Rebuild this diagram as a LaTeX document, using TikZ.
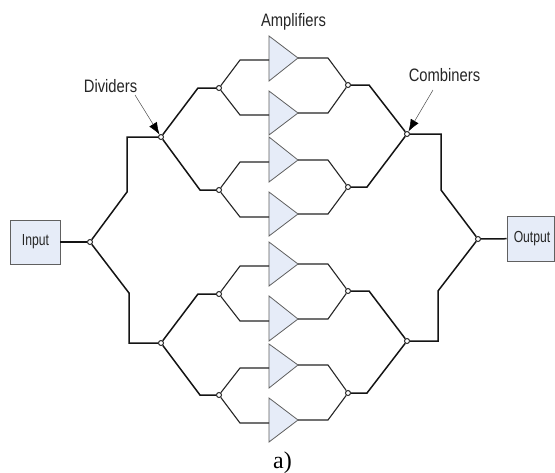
\documentclass[tikz,border=0pt]{standalone}
\usepackage{fontspec}
\usepackage{graphicx}
\setmainfont{Liberation Serif}
\setsansfont{Liberation Sans}
\usetikzlibrary{arrows.meta}
\definecolor{ampfill}{HTML}{E6ECF8}
\definecolor{boxline}{HTML}{606060}
\tikzset{
  outer/.style={line width=1.5pt,draw=black!92},
  thin wire/.style={line width=1.1pt,draw=black!85},
  joint/.style={circle,draw=black!85,line width=1pt,fill=white,minimum size=5pt,inner sep=0pt},
  ampbody/.style={fill=ampfill,draw=boxline,line width=0.8pt,line join=miter},
  iobox/.style={draw=boxline,line width=0.9pt,fill=ampfill,inner sep=0pt},
  lab/.style={inner sep=0pt,text=black!85},
  pointer/.style={draw=black!70,line width=0.5pt,-{Latex[length=12pt,width=9pt,black]}}
}
\newcommand{\biglab}[1]{\scalebox{0.82}[1]{\sffamily\fontsize{18}{18}\selectfont #1}}
\newcommand{\boxlab}[1]{\scalebox{0.76}[1]{\sffamily\fontsize{16}{16}\selectfont #1}}
\newcommand{\ampl}[5]{% name, top, bottom, tip-y, input-y
  \coordinate (#1in) at (269,#5);
  \coordinate (#1out) at (298,#4);
  \draw[ampbody] (269,#2) -- (#1out) -- (269,#3) -- cycle;
}
\begin{document}
\begin{tikzpicture}[x=1pt,y=-1pt]
\useasboundingbox (0,0) rectangle (555,472);
\fill[white] (0,0) rectangle (555,472);
% amplifiers
\ampl{a1}{36}{81}{58}{60}
\ampl{a2}{91}{135}{113}{115}
\ampl{a3}{137}{182}{160}{162}
\ampl{a4}{192}{236}{214}{217}
\ampl{a5}{242}{286}{264}{266}
\ampl{a6}{296}{341}{319}{321}
\ampl{a7}{344}{388}{365}{368}
\ampl{a8}{398}{442}{420}{423}
% boxes and joints
\node[iobox,minimum width=50pt,minimum height=44pt] (input) at (35,242) {};
\node[iobox,minimum width=47pt,minimum height=45pt] (output) at (530.5,238.5) {};
\node[joint] (root) at (90,242) {};
\node[joint] (d1) at (161,137) {};
\node[joint] (d2) at (161,343) {};
\node[joint] (d11) at (219,88) {};
\node[joint] (d12) at (219,190) {};
\node[joint] (d21) at (219,294) {};
\node[joint] (d22) at (219,395) {};
\node[joint] (c11) at (348,85) {};
\node[joint] (c12) at (348,187) {};
\node[joint] (c21) at (348,291) {};
\node[joint] (c22) at (348,393) {};
\node[joint] (c1) at (407,134) {};
\node[joint] (c2) at (407,341) {};
\node[joint] (sink) at (478,239) {};
% outer wires
\draw[outer] (input) -- (root);
\draw[outer] (root) -- (127,192) -- (127,137) -- (d1);
\draw[outer] (root) -- (129,293) -- (129,343) -- (d2);
\draw[outer] (d1) -- (198,88) -- (d11);
\draw[outer] (d1) -- (200,190) -- (d12);
\draw[outer] (d2) -- (198,294) -- (d21);
\draw[outer] (d2) -- (200,395) -- (d22);
\draw[outer] (c11) -- (369,85) -- (c1);
\draw[outer] (c12) -- (367,187) -- (c1);
\draw[outer] (c21) -- (369,291) -- (c2);
\draw[outer] (c22) -- (367,393) -- (c2);
\draw[outer] (c1) -- (441,134) -- (441,190) -- (sink);
\draw[outer] (c2) -- (438,341) -- (438,291) -- (sink);
\draw[outer] (sink) -- (output);
% inner wires
\draw[thin wire] (d11) -- (240,60) -- (a1in);
\draw[thin wire] (d11) -- (240,115) -- (a2in);
\draw[thin wire] (d12) -- (240,162) -- (a3in);
\draw[thin wire] (d12) -- (240,217) -- (a4in);
\draw[thin wire] (d21) -- (240,266) -- (a5in);
\draw[thin wire] (d21) -- (240,321) -- (a6in);
\draw[thin wire] (d22) -- (240,368) -- (a7in);
\draw[thin wire] (d22) -- (240,423) -- (a8in);
\draw[thin wire] (a1out) -- (328,58) -- (c11);
\draw[thin wire] (a2out) -- (328,113) -- (c11);
\draw[thin wire] (a3out) -- (328,160) -- (c12);
\draw[thin wire] (a4out) -- (328,214) -- (c12);
\draw[thin wire] (a5out) -- (328,264) -- (c21);
\draw[thin wire] (a6out) -- (328,319) -- (c21);
\draw[thin wire] (a7out) -- (328,365) -- (c22);
\draw[thin wire] (a8out) -- (328,420) -- (c22);
% labels
\node[lab] (tin) at (35.5,242) {\boxlab{Input}};
\node[lab] (tout) at (532,239) {\boxlab{Output}};
\node[lab] (tamp) at (293.5,22) {\biglab{Amplifiers}};
\node[lab] (tdiv) at (110.5,86) {\biglab{Dividers}};
\node[lab] (tcom) at (444.5,75) {\biglab{Combiners}};
\coordinate (pd) at (135,95);
\coordinate (pc) at (433,90);
\draw[pointer] (pd) -- (d1);
\draw[pointer] (pc) -- (c1);
\node[inner sep=0pt,anchor=base,font=\fontsize{24}{24}\selectfont] (cap) at (282.5,468) {a)};
\end{tikzpicture}
\end{document}
